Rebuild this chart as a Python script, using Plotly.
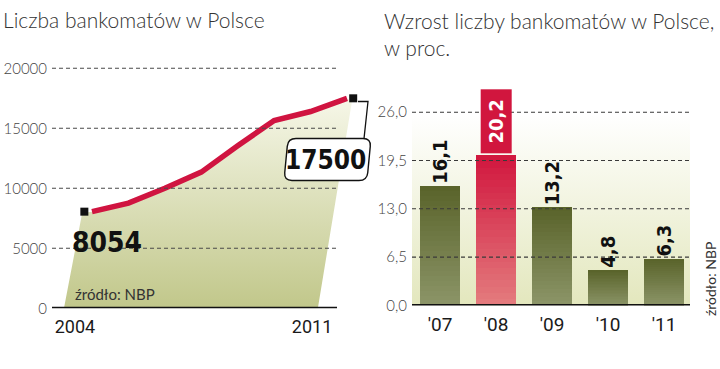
import base64
import math
import plotly.graph_objects as go

W, H = 720, 369

# ---------------- data ----------------
years = [2004, 2005, 2006, 2007, 2008, 2009, 2010, 2011]
atm_counts = [8054, 8770, 10000, 11350, 13550, 15650, 16400, 17500]
left_ticks = [0, 5000, 10000, 15000, 20000]
left_xlabels = ["2004", "2011"]

growth_years = ["'07", "'08", "'09", "'10", "'11"]
growth_pct = [16.1, 20.2, 13.2, 4.8, 6.3]
right_ticks = [0, 6.5, 13, 19.5, 26]
highlight = "'08"

title_left = "Liczba bankomatów w Polsce"
title_right = "Wzrost liczby bankomatów w Polsce,<br>w proc."
source_txt = "źródło: NBP"

# ---------------- styling ----------------
LINE_RED = "#d01440"
OLIVE_TOP, OLIVE_BOT = "#59632a", "#8c9568"
RED_TOP, RED_BOT = "#d1163e", "#e47c7e"
FILL_TOP, FILL_BOT = "#f6f7e8", "#c1c78a"
BG_BOT = "#e3e7bd"
TXT = "#333333"
COND = "DejaVu Sans Condensed, Liberation Sans Narrow, sans-serif"
LIGHT = "Lato, Roboto, sans-serif"


def px(x):
    return x / W


def py(y):
    return 1 - y / H


def hex2rgb(h):
    h = h.lstrip("#")
    return [int(h[i:i + 2], 16) for i in (0, 2, 4)]


def lerp(c1, c2, t):
    a, b = hex2rgb(c1), hex2rgb(c2)
    return "rgb(%d,%d,%d)" % tuple(round(a[i] + (b[i] - a[i]) * t) for i in range(3))


# left panel pixel geometry
L_X0, L_X1 = 52, 372
L_P_START, L_P_END = 92, 347
L_Y0, L_YTOP = 315, 60
L_PX_PER_UNIT = 0.0123
k = (L_P_END - L_P_START) / (years[-1] - years[0])
left_xrange = [years[0] + (L_X0 - L_P_START) / k, years[0] + (L_X1 - L_P_START) / k]
left_yrange = [0, (L_Y0 - L_YTOP) / L_PX_PER_UNIT]

# right panel
R_X0, R_X1 = 412, 692
R_Y0, R_YTOP = 312, 85
R_PX_PER_UNIT = 198 / 26
right_yrange = [0, (R_Y0 - R_YTOP) / R_PX_PER_UNIT]

fig = go.Figure()

# ---- left: area fill ----
fill_x = [years[0] - 0.77, years[0] - 0.27] + years + [years[-1] + 0.14, years[-1] - 0.8]
fill_y = [0, atm_counts[0] * 0.985] + atm_counts + [atm_counts[-1] * 0.99, 0]
fig.add_trace(go.Scatter(
    x=fill_x, y=fill_y, mode="lines", fill="toself", line=dict(width=0),
    fillgradient=dict(type="vertical", colorscale=[[0, FILL_BOT], [1, FILL_TOP]]),
    xaxis="x", yaxis="y", hoverinfo="skip", showlegend=False))

# ---- left: line ----
fig.add_trace(go.Scatter(
    x=years, y=atm_counts, mode="lines", line=dict(color=LINE_RED, width=5.5),
    xaxis="x", yaxis="y", showlegend=False))

# end markers
fig.add_trace(go.Scatter(
    x=[years[0] - 0.21, years[-1] + 0.17], y=[atm_counts[0], atm_counts[-1]],
    mode="markers", marker=dict(symbol="square", size=8, color="#111111"),
    cliponaxis=False, xaxis="x", yaxis="y", showlegend=False))

# ---- right: bars with vertical gradient (stacked slices) ----
N = 24
for s in range(N):
    t = (s + 0.5) / N
    cols = [lerp(RED_BOT, RED_TOP, t) if c == highlight else lerp(OLIVE_BOT, OLIVE_TOP, t)
            for c in growth_years]
    fig.add_trace(go.Bar(
        x=growth_years, y=[v / N for v in growth_pct], width=0.714,
        marker=dict(color=cols, line=dict(width=0)),
        xaxis="x2", yaxis="y2", showlegend=False, hoverinfo="skip"))

shapes = []
for tv in left_ticks[1:]:
    shapes.append(dict(type="line", xref="paper", yref="y", x0=px(52), x1=px(338), y0=tv, y1=tv,
                       line=dict(color="#4a4a4a", width=1.1, dash="4px,3px"), layer="above"))
for tv in right_ticks[1:]:
    shapes.append(dict(type="line", xref="paper", yref="y2", x0=px(412), x1=px(690), y0=tv, y1=tv,
                       line=dict(color="#3a3a3a", width=1.1, dash="4px,3px"), layer="above"))
shapes.append(dict(type="line", xref="paper", yref="y", x0=px(52), x1=px(337), y0=0, y1=0,
                   line=dict(color="#111111", width=3), layer="above"))
shapes.append(dict(type="line", xref="paper", yref="y2", x0=px(412), x1=px(690), y0=0, y1=0,
                   line=dict(color="#111111", width=3), layer="above"))


def rounded_path(pts, r):
    n = len(pts)
    segs = []
    for i in range(n):
        p0, p1, p2 = pts[i - 1], pts[i], pts[(i + 1) % n]
        d1 = math.hypot(p0[0] - p1[0], p0[1] - p1[1])
        d2 = math.hypot(p2[0] - p1[0], p2[1] - p1[1])
        a = (p1[0] + (p0[0] - p1[0]) * r / d1, p1[1] + (p0[1] - p1[1]) * r / d1)
        b = (p1[0] + (p2[0] - p1[0]) * r / d2, p1[1] + (p2[1] - p1[1]) * r / d2)
        segs.append((a, p1, b))
    f = lambda p: "%.5f,%.5f" % (px(p[0]), py(p[1]))
    path = "M" + f(segs[0][0])
    for i, (a, c, b) in enumerate(segs):
        if i > 0:
            path += " L" + f(a)
        path += " Q" + f(c) + " " + f(b)
    return path + " Z"


shapes.append(dict(type="path", xref="paper", yref="paper",
                   path=rounded_path([(288, 141), (371, 141), (367, 184), (284, 184)], 8),
                   fillcolor="white", line=dict(color="#111111", width=1.4), layer="above"))
shapes.append(dict(type="path", xref="paper", yref="paper",
                   path="M%.5f,%.5f L%.5f,%.5f L%.5f,%.5f" % (px(358), py(103), px(368), py(103), px(364), py(141)),
                   line=dict(color="#111111", width=1.3), layer="above"))

svg = ("<svg xmlns='http://www.w3.org/2000/svg' width='10' height='100' viewBox='0 0 10 100' "
       "preserveAspectRatio='none'><defs><linearGradient id='g' x1='0' y1='0' x2='0' y2='1'>"
       "<stop offset='0' stop-color='#ffffff'/><stop offset='0.1' stop-color='#ffffff'/>"
       "<stop offset='1' stop-color='%s'/></linearGradient></defs>"
       "<rect width='10' height='100' fill='url(#g)'/></svg>") % BG_BOT
img_src = "data:image/svg+xml;base64," + base64.b64encode(svg.encode()).decode()

annotations = [
    dict(text=title_left, xref="paper", yref="paper", x=px(1), y=py(19), xanchor="left", yanchor="middle",
         showarrow=False, font=dict(family=LIGHT, size=21, color=TXT, weight=300)),
    dict(text=title_right, xref="paper", yref="paper", x=px(382), y=py(5), xanchor="left", yanchor="top",
         showarrow=False, align="left", font=dict(family=LIGHT, size=21, color=TXT, weight=300)),
    dict(text=source_txt, xref="paper", yref="paper", x=px(73), y=py(300), xanchor="left", yanchor="middle",
         showarrow=False, font=dict(family=LIGHT, size=15, color=TXT)),
    dict(text=source_txt, xref="paper", yref="paper", x=px(710), y=py(285), xanchor="center", yanchor="middle",
         textangle=-90, showarrow=False, font=dict(family=LIGHT, size=14, color=TXT)),
    dict(text=str(atm_counts[0]), xref="x", yref="y", x=years[0], y=atm_counts[0], xanchor="center",
         yanchor="top", xshift=15, yshift=-12, showarrow=False,
         font=dict(family=COND, size=28, color="#111111", weight="bold")),
    dict(text=str(atm_counts[-1]), xref="paper", yref="paper", x=px(325), y=py(163), xanchor="center",
         yanchor="middle", showarrow=False,
         font=dict(family=COND, size=26, color="#111111", weight="bold")),
]
for c, v in zip(growth_years, growth_pct):
    lab = ("%.1f" % v).replace(".", ",")
    if c == highlight:
        annotations.append(dict(text="\u00a0" + lab + "\u00a0", x=c, y=v, xref="x2", yref="y2", xanchor="center",
                                yanchor="bottom", yshift=1, textangle=-90, showarrow=False,
                                bgcolor=RED_TOP, borderpad=3,
                                font=dict(family=COND, size=20, color="white", weight="bold")))
    else:
        annotations.append(dict(text=lab, x=c, y=v, xref="x2", yref="y2", xanchor="center",
                                yanchor="bottom", yshift=0, textangle=-90, showarrow=False,
                                font=dict(family=COND, size=20, color="#111111", weight="bold")))

fig.update_layout(
    width=W, height=H, margin=dict(l=0, r=0, t=0, b=0),
    paper_bgcolor="white", plot_bgcolor="rgba(0,0,0,0)",
    separators=",.", barmode="stack", bargap=0,
    showlegend=False, shapes=shapes, annotations=annotations,
    images=[dict(source=img_src, xref="paper", yref="paper", x=px(412), y=py(95),
                 sizex=(690 - 412) / W, sizey=(312 - 95) / H, xanchor="left", yanchor="top",
                 sizing="stretch", layer="below")],
    xaxis=dict(domain=[px(L_X0), px(L_X1)], range=left_xrange, showgrid=False, zeroline=False,
               showline=False, tickmode="array",
               tickvals=[years[0] - 0.47, years[-1] - 0.96], ticktext=left_xlabels,
               ticks="", ticklabelstandoff=6,
               tickfont=dict(family="Roboto, sans-serif", size=18, color="#1a1a1a")),
    yaxis=dict(domain=[py(L_Y0), py(L_YTOP)], range=left_yrange, showgrid=False, zeroline=False,
               showline=False, tickmode="array", tickvals=left_ticks, tickformat="d", ticks="",
               ticklabelstandoff=4,
               tickfont=dict(family=LIGHT, size=15, color="#444444", weight=300)),
    xaxis2=dict(domain=[px(R_X0), px(R_X1)], range=[-0.5, 4.5], type="category", showgrid=False,
                zeroline=False, showline=False, ticks="", ticklabelstandoff=6,
                tickfont=dict(family="Roboto, sans-serif", size=19, color="#1a1a1a"), anchor="y2"),
    yaxis2=dict(domain=[py(R_Y0), py(R_YTOP)], range=right_yrange, showgrid=False, zeroline=False,
                showline=False, tickmode="array", tickvals=right_ticks, tickformat=".1f", ticks="",
                ticklabelstandoff=4, anchor="x2",
                tickfont=dict(family=LIGHT, size=15, color="#444444", weight=300)),
)

fig.write_html("out.html")
